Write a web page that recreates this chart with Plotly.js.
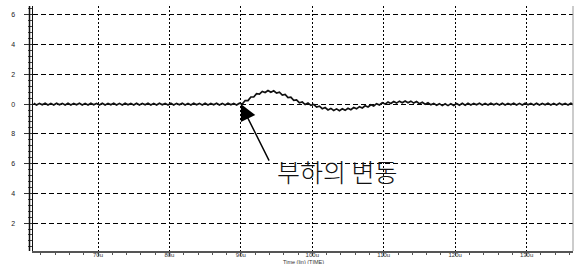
<!DOCTYPE html>
<html>
<head>
<meta charset="utf-8">
<script src="https://cdn.plot.ly/plotly-3.0.1.min.js"></script>
<style>
  html, body { margin: 0; padding: 0; background: #fff; }
  #chart { width: 574px; height: 264px; }
</style>
</head>
<body>
<div id="chart"></div>
<script>
// Time axis (microseconds): samples start at T0 with step DT
const T0 = 61.0;
const DT = 0.4;

const waveform = [
  // 61.0 - 89.8 us : steady state with ripple
  1.006, 0.994, 1.005, 0.995, 1.006, 0.994, 1.005, 0.994, 1.006, 0.995,
  1.005, 0.994, 1.006, 0.994, 1.005, 0.995, 1.006, 0.994, 1.005, 0.994,
  1.006, 0.995, 1.005, 0.994, 1.006, 0.994, 1.005, 0.995, 1.006, 0.994,
  1.005, 0.994, 1.006, 0.995, 1.005, 0.994, 1.006, 0.994, 1.005, 0.995,
  1.006, 0.994, 1.005, 0.994, 1.006, 0.995, 1.005, 0.994, 1.006, 0.994,
  1.005, 0.995, 1.006, 0.994, 1.005, 0.994, 1.006, 0.995, 1.005, 0.994,
  1.006, 0.994, 1.005, 0.995, 1.006, 0.994, 1.005, 0.994, 1.006, 0.995,
  1.005, 0.994, 1.006,
  // 90.2 - 121.4 us : load change transient
  1.000, 1.024, 1.024, 1.048, 1.048, 1.070, 1.067, 1.085, 1.078, 1.092,
  1.080, 1.090, 1.074, 1.080, 1.061, 1.065, 1.044, 1.047, 1.026, 1.029,
  1.009, 1.014, 0.997, 1.008, 0.992, 0.998, 0.980, 0.986, 0.969, 0.977,
  0.961, 0.971, 0.957, 0.968, 0.956, 0.969, 0.958, 0.972, 0.962, 0.977,
  0.968, 0.983, 0.974, 0.989, 0.981, 0.996, 0.988, 1.003, 0.994, 1.009,
  1.000, 1.014, 1.004, 1.018, 1.007, 1.020, 1.009, 1.021, 1.009, 1.020,
  1.007, 1.017, 1.003, 1.013, 0.999, 1.009, 0.995, 1.005, 0.992, 1.003,
  0.990, 1.002, 0.990, 1.003, 0.991, 1.004, 0.992, 1.005, 0.993,
  // 121.8 - 137.0 us : settled
  1.006, 0.994, 1.005, 0.995, 1.006, 0.994, 1.005, 0.994, 1.006, 0.995,
  1.005, 0.994, 1.006, 0.994, 1.005, 0.995, 1.006, 0.994, 1.005, 0.994,
  1.006, 0.995, 1.005, 0.994, 1.006, 0.994, 1.005, 0.995, 1.006, 0.994,
  1.005, 0.994, 1.006, 0.995, 1.005, 0.994, 1.006, 0.994, 1.005
];

// Tick labels
const xTickVals = [70, 80, 90, 100, 110, 120, 130];
const xTickText = ["70u", "80u", "90u", "100u", "110u", "120u", "130u"];
const yTickVals = [0.2, 0.4, 0.6, 0.8, 1.0, 1.2, 1.4, 1.6];
const yTickText = ["2", "4", "6", "8", "0", "2", "4", "6"];

// Annotation content
const eventTime = 90;
const eventLevel = 1.0;
const labelTime = 103.5;
const labelLevel = 0.55;
const labelText = "부하의 변동";
const xTitle = "Time (lin) (TIME)";

const trace = {
  type: "scatter",
  mode: "lines",
  x0: T0,
  dx: DT,
  y: waveform,
  line: { color: "#111", width: 1.7 },
  hoverinfo: "skip",
  showlegend: false
};

const layout = {
  width: 574,
  height: 264,
  margin: { l: 33, r: 1, t: 6, b: 13, pad: 0 },
  paper_bgcolor: "#fff",
  plot_bgcolor: "#fff",
  font: { family: "Liberation Sans, Arial, sans-serif", color: "#333", size: 6 },
  showlegend: false,
  xaxis: {
    range: [60.9, 136.5],
    tickmode: "array",
    tickvals: xTickVals,
    ticktext: xTickText,
    tickfont: { size: 6, color: "#333" },
    ticks: "outside",
    ticklen: 3,
    tickcolor: "#444",
    ticklabelstandoff: -6,
    showline: true,
    linecolor: "#555",
    linewidth: 2,
    showgrid: true,
    gridcolor: "#000",
    gridwidth: 1,
    griddash: "2px,2px",
    zeroline: false,
    minor: { dtick: 2, ticks: "outside", ticklen: 2, tickcolor: "#555", showgrid: false }
  },
  yaxis: {
    range: [0.012, 1.66],
    tickmode: "array",
    tickvals: yTickVals,
    ticktext: yTickText,
    tickfont: { size: 7, color: "#222" },
    ticks: "outside",
    ticklen: 8,
    tickcolor: "#333",
    ticklabelstandoff: 7,
    showline: true,
    linecolor: "#111",
    linewidth: 1.5,
    showgrid: true,
    gridcolor: "#000",
    gridwidth: 1,
    griddash: "5px,3px",
    zeroline: false,
    minor: { dtick: 0.04, ticks: "outside", ticklen: 4, tickcolor: "#444", showgrid: false }
  },
  shapes: [
    { type: "line", xref: "paper", yref: "paper", xsizemode: "pixel", xanchor: 0,
      x0: -3.5, x1: -3.5, y0: 0, y1: 1, line: { color: "#111", width: 1.5 } },
    { type: "line", xref: "paper", yref: "paper", x0: 1, x1: 1, y0: 0, y1: 1,
      line: { color: "#999", width: 1 } }
  ],
  annotations: [
    {
      x: eventTime, y: eventLevel, xref: "x", yref: "y",
      text: "", showarrow: true,
      ax: 29, ay: 58, axref: "pixel", ayref: "pixel",
      arrowhead: 2, arrowsize: 2.3, arrowwidth: 1.4, arrowcolor: "#000", standoff: 0
    },
    {
      x: labelTime, y: labelLevel, xref: "x", yref: "y",
      text: labelText, showarrow: false,
      font: { family: "Noto Sans CJK KR", size: 25, color: "#111", weight: 300 }
    },
    {
      x: 0.5, y: 0, xref: "paper", yref: "paper",
      xanchor: "center", yanchor: "top", yshift: -5.5,
      text: xTitle, showarrow: false,
      font: { size: 5.5, color: "#333" }
    }
  ]
};

Plotly.newPlot("chart", [trace], layout, { staticPlot: true, displayModeBar: false });
</script>
</body>
</html>
